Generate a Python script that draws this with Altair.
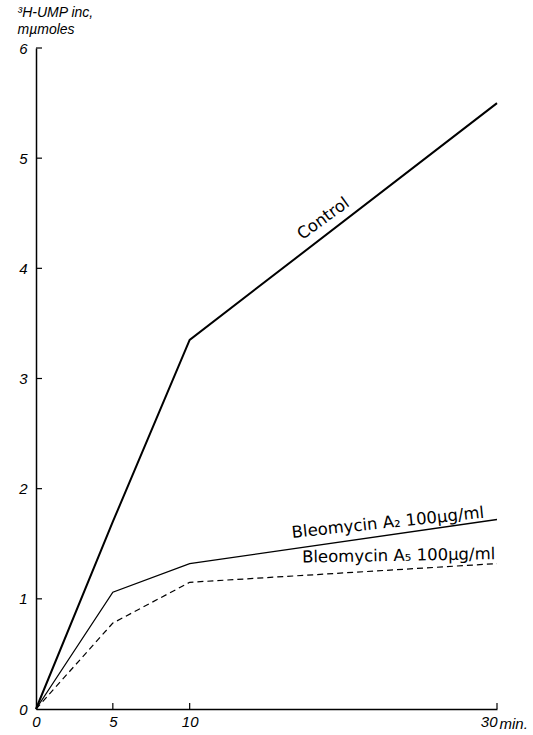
import altair as alt
import pandas as pd

# ---- data ----
times = [0, 5, 10, 30]
control = [0, 1.70, 3.35, 5.50]
bleo_a2 = [0, 1.06, 1.32, 1.72]
bleo_a5 = [0, 0.78, 1.15, 1.32]
series_names = ["Control", "Bleomycin A2", "Bleomycin A5"]

label_texts = ["Control", "Bleomycin A\u2082  100\u00b5g/ml", "Bleomycin A\u2085 100\u00b5g/ml"]
label_x = [18.7, 22.9, 23.6]
label_y = [4.45, 1.69, 1.39]
label_angle = [324, 354, 359]

x_ticks = [0, 5, 10, 30]
y_ticks = [0, 1, 2, 3, 4, 5, 6]

rows = []
for name, vals in zip(series_names, [control, bleo_a2, bleo_a5]):
    for t, v in zip(times, vals):
        rows.append({"series": name, "time": t, "value": v})
df = pd.DataFrame(rows)

lab = pd.DataFrame({"text": label_texts, "x": label_x, "y": label_y, "angle": label_angle})
xt = pd.DataFrame({"t": x_ticks[1:]})
yt = pd.DataFrame({"v": y_ticks[1:]})

FONT = "Liberation Sans"
LFONT = "DejaVu Sans"
W, H = 461, 661

xscale = alt.Scale(domain=[0, 30], nice=False, zero=True)
yscale = alt.Scale(domain=[0, 6], nice=False)

xaxis = alt.Axis(
    values=x_ticks, ticks=False, grid=False, labelPadding=5, format="d",
    labelFont=FONT, labelFontStyle="italic", labelFontSize=15, labelColor="black",
    labelAlign={"condition": {"test": "datum.value == 30", "value": "right"}, "value": "center"},
    domainColor="black", domainWidth=1.5,
    title="min.", titleFont=FONT, titleFontStyle="italic", titleFontWeight="normal",
    titleFontSize=15, titleAlign="left", titleBaseline="top", titleX=W + 2, titleY=7,
    titleColor="black",
)
yaxis = alt.Axis(
    values=y_ticks, ticks=False, grid=False, labelPadding=9, format="d",
    labelFont=FONT, labelFontStyle="italic", labelFontSize=15, labelColor="black",
    domainColor="black", domainWidth=1.5,
    title=["\u00b3H-UMP inc,", "m\u00b5moles"], titleFont=FONT, titleFontStyle="italic",
    titleFontWeight="normal", titleFontSize=14, titleAngle=0, titleAlign="left",
    titleBaseline="top", titleX=-19, titleY=-43, titleColor="black", titleLineHeight=17,
)

base = alt.Chart(df)

def line_layer(name, width, dash=None):
    kw = dict(color="black", strokeWidth=width)
    if dash:
        kw["strokeDash"] = dash
    return base.transform_filter(alt.datum.series == name).mark_line(**kw).encode(
        x=alt.X("time:Q", scale=xscale, axis=xaxis),
        y=alt.Y("value:Q", scale=yscale, axis=yaxis),
    )

l1 = line_layer("Control", 2.0)
l2 = line_layer("Bleomycin A2", 1.3)
l3 = line_layer("Bleomycin A5", 1.2, [6, 4])

labels = alt.Chart(lab).mark_text(font=LFONT, fontSize=16.5, color="black").encode(
    x=alt.X("x:Q", scale=xscale),
    y=alt.Y("y:Q", scale=yscale),
    text="text:N",
    angle=alt.Angle("angle:Q", scale=None),
)

ytick_layer = alt.Chart(yt).mark_rule(color="black", strokeWidth=1.2).encode(
    y=alt.Y("v:Q", scale=yscale),
    x=alt.value(0), x2=alt.value(6),
)
xtick_layer = alt.Chart(xt).mark_rule(color="black", strokeWidth=1.2).encode(
    x=alt.X("t:Q", scale=xscale),
    y=alt.value(H), y2=alt.value(H - 6),
)

chart = alt.layer(l1, l2, l3, labels, ytick_layer, xtick_layer).properties(
    width=W, height=H,
    autosize=alt.AutoSizeParams(type="none"),
    padding={"left": 36, "top": 48, "right": 36, "bottom": 26},
    background="white",
).configure_view(stroke=None)

chart.save("out.html", embed_options={"renderer": "svg", "actions": False})
